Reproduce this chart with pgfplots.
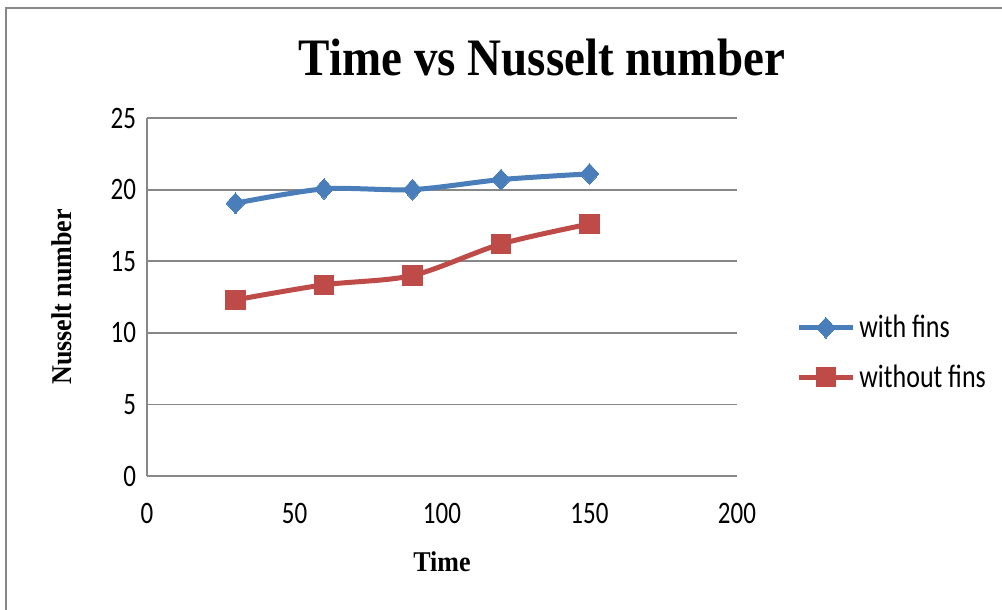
\documentclass[border=0pt]{standalone}
\usepackage{fontspec}
\setmainfont{Carlito}
\newfontfamily\timesfont{Liberation Serif}
\usepackage{pgfplots}
\pgfplotsset{compat=1.18}

\definecolor{finblue}{HTML}{4A7EBB}
\definecolor{nofinred}{HTML}{BE4B48}
\definecolor{gridgray}{HTML}{878787}

% taller, narrower lettering
\newcommand{\tall}[1]{\scalebox{1}[1.25]{#1}}

\begin{document}
\begin{tikzpicture}
  % page size and the chart-area frame
  \path[use as bounding box] (0,0) rectangle (501pt,-305pt);
  \draw[gridgray, line width=1pt] (3pt,-320pt) -- (3pt,-4pt) -- (520pt,-4pt);

  \node[font=\timesfont\bfseries\fontsize{23.5}{28}\selectfont] at (271pt,-29pt)
    {\scalebox{1}[1.12]{Time vs Nusselt number}};

  \begin{axis}[
    at={(73.5pt,-238pt)}, anchor=south west,
    scale only axis, width=295pt, height=179pt,
    xmin=0, xmax=200, ymin=0, ymax=25,
    xtick={0,50,...,200}, ytick={0,5,...,25},
    axis lines*=left,
    axis line style={gridgray, line width=0.9pt},
    ymajorgrids, grid style={gridgray, line width=0.9pt},
    major tick length=0pt,
    tick label style={font=\fontsize{12.5}{15}\selectfont},
    xticklabel={\tall{\pgfmathprintnumber[assume math mode=true]{\tick}}},
    yticklabel={\tall{\pgfmathprintnumber[assume math mode=true]{\tick}}},
    xticklabel style={yshift=-10pt},
    yticklabel style={xshift=-2pt},
    xlabel={\scalebox{1}[1.1]{Time}}, ylabel={\scalebox{1}[1.1]{Nusselt number}},
    xlabel style={font=\timesfont\bfseries\fontsize{13}{15}\selectfont,
                  at={(axis description cs:0.5,-0.24)}, anchor=center},
    ylabel style={font=\timesfont\bfseries\fontsize{13}{15}\selectfont,
                  at={(axis description cs:-0.144,0.5)}, anchor=center},
    legend style={at={(axis description cs:1.1,0.345)}, anchor=west,
                  draw=none, fill=none, font=\fontsize{13}{15}\selectfont,
                  row sep=8pt, inner sep=0pt},
    legend cell align=left,
    legend image code/.code={
      \draw[mark repeat=2, mark phase=2] plot coordinates {(0pt,0pt) (13.5pt,0pt) (27pt,0pt)};
    },
  ]
    \addplot[finblue, line width=2.5pt, smooth, tension=0.5,
             mark=diamond*, mark size=5.2pt,
             mark options={solid, xscale=1.2, draw=finblue, fill=finblue, line width=0pt}]
      coordinates {(30,19.05) (60,20.05) (90,20.0) (120,20.7) (150,21.1)};
    \addlegendentry{\tall{with fins}}

    \addplot[nofinred, line width=2.5pt, smooth, tension=0.5,
             mark=square*, mark size=4.8pt,
             mark options={solid, draw=nofinred, fill=nofinred, line width=0pt}]
      coordinates {(30,12.3) (60,13.35) (90,14.0) (120,16.2) (150,17.6)};
    \addlegendentry{\tall{without fins}}
  \end{axis}
\end{tikzpicture}
\end{document}
